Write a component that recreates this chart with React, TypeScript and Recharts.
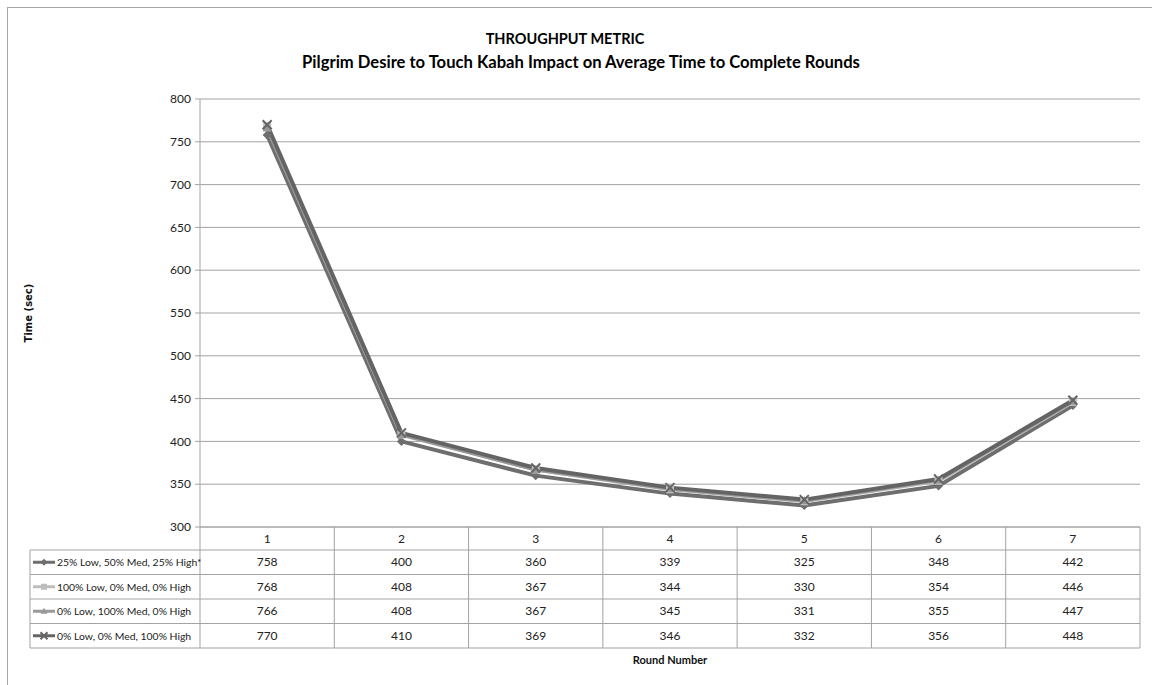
import { LineChart, Line, XAxis, YAxis, CartesianGrid, Label } from "recharts";

const rounds = ["1", "2", "3", "4", "5", "6", "7"];
const mixed = [758, 400, 360, 339, 325, 348, 442];
const allLow = [768, 408, 367, 344, 330, 354, 446];
const allMed = [766, 408, 367, 345, 331, 355, 447];
const allHigh = [770, 410, 369, 346, 332, 356, 448];
const yTicks = [300, 350, 400, 450, 500, 550, 600, 650, 700, 750, 800];

const series = [
  { key: "mixed", name: "25% Low, 50% Med, 25% High*", values: mixed, color: "#6e6e6e", shape: "diamond" },
  { key: "allLow", name: "100% Low, 0% Med, 0% High", values: allLow, color: "#bdbdbd", shape: "square" },
  { key: "allMed", name: "0% Low, 100% Med, 0% High", values: allMed, color: "#999999", shape: "triangle" },
  { key: "allHigh", name: "0% Low, 0% Med, 100% High", values: allHigh, color: "#646464", shape: "x" },
];

const data = rounds.map((r, i) => {
  const row: any = { round: r };
  series.forEach((s) => (row[s.key] = s.values[i]));
  return row;
});

const FONT = "Lato, 'Open Sans', sans-serif";
const GRID = "#a3a3a3";
const PLOT_LEFT = 200;
const PLOT_RIGHT = 1140;
const TABLE_LEFT = 30;
const HEAD_H = 23;
const ROW_H = 24.5;
const COL_W = (PLOT_RIGHT - PLOT_LEFT) / rounds.length;

function Marker({ shape, color, cx, cy, r = 4.5 }: any) {
  if (shape === "diamond")
    return <polygon points={`${cx},${cy - r} ${cx + r},${cy} ${cx},${cy + r} ${cx - r},${cy}`} fill={color} />;
  if (shape === "square")
    return <rect x={cx - r + 0.5} y={cy - r + 0.5} width={2 * r - 1} height={2 * r - 1} fill={color} />;
  if (shape === "triangle")
    return <polygon points={`${cx},${cy - r} ${cx + r},${cy + r - 1} ${cx - r},${cy + r - 1}`} fill={color} />;
  return (
    <g stroke={color} strokeWidth={2}>
      <line x1={cx - r} y1={cy - r} x2={cx + r} y2={cy + r} />
      <line x1={cx - r} y1={cy + r} x2={cx + r} y2={cy - r} />
    </g>
  );
}

function TableTick(props: any) {
  const { x, y, payload } = props;
  const idx = props.index ?? rounds.indexOf(payload.value);
  const half = COL_W / 2;
  const bottom = y + HEAD_H + ROW_H * series.length;
  const rowTop = (k: number) => y + HEAD_H + ROW_H * k;
  return (
    <g fontFamily={FONT} fontSize={12} fill="#222">
      {idx === 0 && (
        <g>
          <line x1={x - half} y1={y} x2={x - half} y2={bottom} stroke={GRID} />
          <line x1={TABLE_LEFT} y1={rowTop(0)} x2={TABLE_LEFT} y2={bottom} stroke={GRID} />
          {series.map((s, k) => (
            <g key={s.key}>
              <line x1={TABLE_LEFT} y1={rowTop(k)} x2={x - half} y2={rowTop(k)} stroke={GRID} />
              <line x1={TABLE_LEFT + 3} y1={rowTop(k) + ROW_H / 2} x2={TABLE_LEFT + 25} y2={rowTop(k) + ROW_H / 2} stroke={s.color} strokeWidth={3} />
              <Marker shape={s.shape} color={s.color} cx={TABLE_LEFT + 14} cy={rowTop(k) + ROW_H / 2} r={3.5} />
              <text x={TABLE_LEFT + 27} y={rowTop(k) + ROW_H / 2 + 4} textAnchor="start" fontSize={10.4}>
                {s.name}
              </text>
            </g>
          ))}
          <line x1={TABLE_LEFT} y1={bottom} x2={x - half} y2={bottom} stroke={GRID} />
        </g>
      )}
      <line x1={x + half} y1={y} x2={x + half} y2={bottom} stroke={GRID} />
      {[0, 1, 2, 3, 4].map((k) => (
        <line key={k} x1={x - half} y1={rowTop(k)} x2={x + half} y2={rowTop(k)} stroke={GRID} />
      ))}
      <text x={x} y={y + HEAD_H / 2 + 4} textAnchor="middle">
        {payload.value}
      </text>
      {series.map((s, k) => (
        <text key={s.key} x={x} y={rowTop(k) + ROW_H / 2 + 4} textAnchor="middle">
          {s.values[idx]}
        </text>
      ))}
    </g>
  );
}

export default function App() {
  return (
    <div style={{ position: "absolute", left: 0, top: 0, width: 1152, height: 685, overflow: "hidden", background: "#fff" }}>
      <div style={{ position: "absolute", left: 7, top: 7, width: 1200, height: 720, border: "1px solid #a6a6a6" }} />
      <div style={{ position: "absolute", left: 165, width: 800, top: 30, textAlign: "center", fontFamily: FONT, fontWeight: 700, fontSize: 14.5, color: "#000" }}>
        THROUGHPUT METRIC
      </div>
      <div style={{ position: "absolute", left: 181, width: 800, top: 52, textAlign: "center", fontFamily: FONT, fontWeight: 700, fontSize: 16.6, color: "#000" }}>
        Pilgrim Desire to Touch Kabah Impact on Average Time to Complete Rounds
      </div>
      <div style={{ position: "absolute", left: 0, top: 0 }}>
        <LineChart width={1152} height={685} data={data} margin={{ top: 99, right: 12, bottom: 18, left: 160 }}>
          <CartesianGrid vertical={false} stroke={GRID} strokeDasharray="" />
          <XAxis
            dataKey="round"
            scale="band"
            interval={0}
            height={140}
            tickSize={0}
            tickMargin={0}
            axisLine={{ stroke: GRID }}
            tick={<TableTick />}
          >
            <Label value="Round Number" position="insideBottom" offset={3} style={{ fontFamily: FONT, fontWeight: 700, fontSize: 11, fill: "#111" }} />
          </XAxis>
          <YAxis
            domain={[300, 800]}
            ticks={yTicks}
            width={40}
            tickSize={5}
            tickMargin={4}
            axisLine={{ stroke: GRID }}
            tickLine={{ stroke: GRID }}
            tick={{ fontFamily: FONT, fontSize: 12, fill: "#222" }}
          >
            <Label value="Time (sec)" angle={-90} position="left" offset={132} style={{ fontFamily: "DejaVu Sans, sans-serif", fontWeight: 700, fontSize: 10, fill: "#111", textAnchor: "middle" }} />
          </YAxis>
          {series.map((s) => (
            <Line
              key={s.key}
              dataKey={s.key}
              name={s.name}
              stroke={s.color}
              strokeWidth={4}
              isAnimationActive={false}
              dot={(p: any) => <Marker key={`${s.key}-${p.index}`} shape={s.shape} color={s.color} cx={p.cx} cy={p.cy} />}
              activeDot={false}
            />
          ))}
        </LineChart>
      </div>
    </div>
  );
}
